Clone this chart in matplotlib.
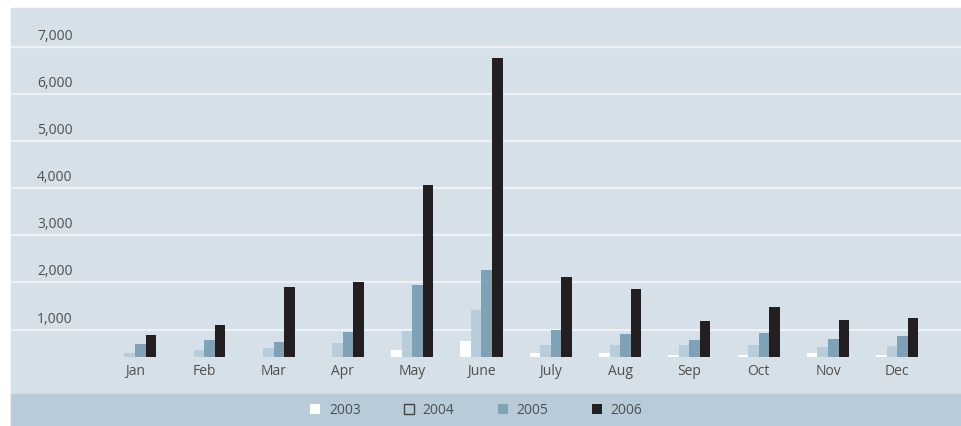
import matplotlib
matplotlib.use("Agg")
import matplotlib.pyplot as plt
import matplotlib.transforms as mtransforms
from matplotlib.patches import Rectangle, Patch
import numpy as np

# ----- data -----
months = ['Jan', 'Feb', 'Mar', 'Apr', 'May', 'June',
          'July', 'Aug', 'Sep', 'Oct', 'Nov', 'Dec']
years = ['2003', '2004', '2005', '2006']
v2003 = [0, 0, 0, 0, 565, 756, 507, 507, 458, 458, 507, 458]
v2004 = [507, 565, 613, 720, 968, 1414, 671, 671, 671, 671, 628, 650]
v2005 = [692, 777, 734, 947, 1945, 2264, 989, 904, 777, 926, 798, 862]
v2006 = [883, 1096, 1903, 2009, 4069, 6767, 2115, 1860, 1180, 1478, 1202, 1244]
yticks = [1000, 2000, 3000, 4000, 5000, 6000, 7000]

# ----- styles -----
panel_col = '#d5e0e8'
band_col = '#b7cbd8'
bar_cols = ['#ffffff', '#b8ccd9', '#7fa2b7', '#231f20']
text_col = '#4f4f4f'
plt.rcParams['font.family'] = ['Open Sans', 'DejaVu Sans']

W, H = 962, 426
fig = plt.figure(figsize=(W / 100, H / 100), dpi=100)
fig.patch.set_facecolor('white')

# background panel + legend band (pixel coords -> figure fraction)
fig.patches.append(Rectangle((11 / W, 0), 1 - 11 / W, 1 - 8 / H,
                             transform=fig.transFigure, color=panel_col, zorder=-10))
fig.patches.append(Rectangle((11 / W, 0), 1 - 11 / W, 32 / H,
                             transform=fig.transFigure, color=band_col, zorder=-9))

ax = fig.add_axes([11 / W, 1 - 357 / H, 1 - 11 / W, (357 - 8) / H])
ax.set_zorder(1)
ax.set_facecolor('none')
for s in ax.spines.values():
    s.set_visible(False)

x = np.arange(len(months))
w = 0.152
series = [v2003, v2004, v2005, v2006]
for i, vals in enumerate(series):
    ax.bar(x + (i - 1.5) * w, vals, width=w, color=bar_cols[i], zorder=2)

ax.set_xlim(-1.789, 11.934)
ax.set_ylim(416, 7828)
ax.set_yticks(yticks)
ax.yaxis.grid(True, color='#eef2f6', linewidth=1.6, zorder=1)
ax.set_axisbelow(True)
ax.tick_params(axis='y', length=0, labelleft=False)
ax.set_xticks(x)
ax.set_xticklabels(months, fontsize=10, color=text_col)
ax.tick_params(axis='x', length=0, pad=5)

# y labels sit above their gridlines
off = mtransforms.ScaledTranslation(0, 10.5 / 100, fig.dpi_scale_trans)
for v in yticks:
    ax.text(0.0273, v, f'{v:,}', transform=ax.get_yaxis_transform() + off,
            ha='left', va='center', fontsize=10, color=text_col)

handles = [Patch(facecolor=bar_cols[0], edgecolor='none'),
           Patch(facecolor=band_col, edgecolor='#444444', linewidth=1),
           Patch(facecolor=bar_cols[2], edgecolor='none'),
           Patch(facecolor=bar_cols[3], edgecolor='none')]
leg = fig.legend(handles, years, loc='center', bbox_to_anchor=(0.495, 1 - 410 / H),
                 ncol=4, frameon=False, fontsize=10, handlelength=0.72,
                 handleheight=0.72, handletextpad=0.65, columnspacing=3.1)
for t in leg.get_texts():
    t.set_color(text_col)

fig.savefig('out.png', dpi=100)
